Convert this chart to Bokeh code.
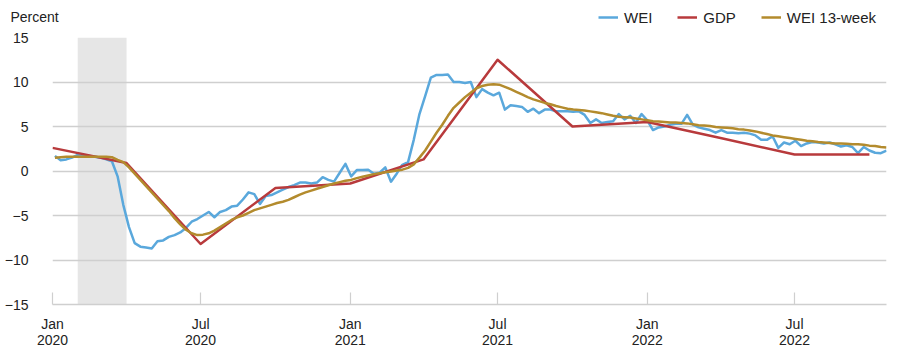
import pandas as pd
from bokeh.plotting import figure
from bokeh.layouts import column
from bokeh.models import (Range1d, FixedTicker, Legend, LegendItem, Label,
                          BoxAnnotation, ColumnDataSource)
from bokeh.embed import file_html
from bokeh.resources import INLINE

# ---------------- data ----------------
wei_start = "2020-01-04"
wei = [1.7, 1.2, 1.3, 1.5, 1.8, 1.7, 1.7, 1.6, 1.5, 1.3,
       1.1, -0.6, -3.8, -6.3, -8.1, -8.5, -8.6, -8.7, -7.9, -7.8,
       -7.4, -7.2, -6.9, -6.4, -5.7, -5.4, -5.0, -4.6, -5.2, -4.6,
       -4.4, -4.0, -3.9, -3.2, -2.4, -2.6, -3.7, -2.8, -2.7, -2.4,
       -2.1, -1.8, -1.6, -1.3, -1.3, -1.4, -1.3, -0.7, -1.0, -1.2,
       -0.2, 0.8, -0.6, 0.1, 0.1, 0.15, -0.3, -0.2, 0.4, -1.2,
       -0.3, 0.7, 1.0, 3.5, 6.4, 8.4, 10.5, 10.8, 10.8, 10.85,
       10.0, 10.0, 9.9, 10.0, 8.3, 9.2, 8.8, 8.5, 8.8, 6.9,
       7.4, 7.3, 7.2, 6.65, 7.0, 6.5, 6.9, 6.9, 6.7, 6.7,
       6.7, 6.65, 6.7, 6.3, 5.4, 5.8, 5.4, 5.5, 5.6, 6.4,
       5.8, 6.2, 5.4, 6.4, 5.7, 4.6, 4.9, 5.0, 5.2, 5.3,
       5.3, 6.3, 5.2, 4.9, 4.75, 4.6, 4.3, 4.6, 4.3, 4.3,
       4.25, 4.3, 4.2, 4.0, 3.5, 3.5, 3.9, 2.6, 3.2, 3.0,
       3.4, 2.8, 3.1, 3.25, 3.2, 3.1, 3.2, 3.0, 2.75, 2.9,
       2.7, 2.0, 2.7, 2.3, 2.05, 2.0, 2.3]
wei13 = [1.5, 1.55, 1.6, 1.6, 1.6, 1.6, 1.6, 1.6, 1.6, 1.6,
         1.55, 1.25, 1.0, 0.4, -0.3, -1.0, -1.7, -2.4, -3.1, -3.8,
         -4.5, -5.3, -6.0, -6.6, -7.0, -7.2, -7.15, -7.0, -6.7, -6.3,
         -5.9, -5.5, -5.2, -5.0, -4.7, -4.4, -4.2, -4.0, -3.8, -3.6,
         -3.45, -3.25, -2.95, -2.65, -2.4, -2.2, -2.0, -1.8, -1.6, -1.4,
         -1.25, -1.1, -1.0, -0.8, -0.65, -0.5, -0.35, -0.25, -0.15, -0.05,
         0.05, 0.15, 0.35, 0.75, 1.5, 2.3, 3.3, 4.3, 5.2, 6.2,
         7.1, 7.7, 8.3, 8.8, 9.3, 9.55, 9.7, 9.75, 9.7, 9.45,
         9.2, 8.9, 8.6, 8.3, 8.05, 7.85, 7.65, 7.5, 7.3, 7.15,
         7.0, 6.9, 6.85, 6.8, 6.7, 6.6, 6.5, 6.35, 6.2, 6.1,
         6.05, 6.0, 5.9, 5.8, 5.7, 5.6, 5.55, 5.5, 5.45, 5.45,
         5.4, 5.35, 5.25, 5.15, 5.1, 5.05, 4.95, 4.9, 4.85, 4.8,
         4.7, 4.65, 4.55, 4.45, 4.3, 4.15, 4.0, 3.9, 3.8, 3.7,
         3.6, 3.5, 3.4, 3.35, 3.25, 3.2, 3.15, 3.1, 3.1, 3.05,
         3.0, 3.0, 2.95, 2.85, 2.8, 2.7, 2.65]
gdp_dates = ["2020-01-01", "2020-04-01", "2020-07-01", "2020-10-01",
             "2021-01-01", "2021-04-01", "2021-07-01", "2021-10-01",
             "2022-01-01", "2022-04-01", "2022-07-01", "2022-10-01"]
gdp = [2.6, 0.9, -8.2, -1.9, -1.4, 1.3, 12.5, 5.0, 5.5, 3.7, 1.85, 1.85]
recession = ["2020-02-01", "2020-04-01"]
x_tick_dates = ["2020-01-01", "2020-07-01", "2021-01-01",
                "2021-07-01", "2022-01-01", "2022-07-01"]
x_tick_labels = ["Jan\n2020", "Jul\n2020", "Jan\n2021",
                 "Jul\n2021", "Jan\n2022", "Jul\n2022"]
y_ticks = [-15, -10, -5, 0, 5, 10, 15]
series_names = ["WEI", "GDP", "WEI 13-week"]
unit_label = "Percent"
x_start, x_end = "2020-01-01", "2022-10-22"

# ---------------- styling ----------------
FONT = "Liberation Sans"
TXT = "#222222"
C_WEI = "#5aa8dc"
C_GDP = "#b83a3c"
C_W13 = "#b38b2d"
GRID = "#cfcfcf"
W = 896
HEAD_H = 28
MAIN_H = 332


def ms(s):
    return int(pd.Timestamp(s).timestamp() * 1000)


wei_dates = pd.date_range(wei_start, periods=len(wei), freq="7D")
src_w = ColumnDataSource(dict(date=wei_dates, wei=wei, wei13=wei13))
src_g = ColumnDataSource(dict(date=pd.to_datetime(gdp_dates), gdp=gdp))

# ---------------- header (unit label + legend) ----------------
# same series, drawn against a pixel range where they fall out of view:
# only their legend entries show here
head = figure(width=W, height=HEAD_H, x_range=Range1d(0, W),
              y_range=Range1d(0, HEAD_H), output_backend="svg",
              toolbar_location=None, x_axis_location=None,
              y_axis_location=None, min_border=0)
head.frame_align = False
head.outline_line_color = None
head.grid.grid_line_color = None
head.add_layout(Label(x=10, y=HEAD_H - 16, x_units="screen", y_units="screen",
                      text=unit_label, text_font=FONT, text_font_size="14px",
                      text_color=TXT, text_baseline="alphabetic"))
h_wei = head.line("date", "wei", source=src_w, line_color=C_WEI, line_width=2.5)
h_gdp = head.line("date", "gdp", source=src_g, line_color=C_GDP, line_width=2.5)
h_w13 = head.line("date", "wei13", source=src_w, line_color=C_W13, line_width=2.5)
legend = Legend(items=[LegendItem(label=series_names[0], renderers=[h_wei]),
                       LegendItem(label=series_names[1], renderers=[h_gdp]),
                       LegendItem(label=series_names[2], renderers=[h_w13])],
                orientation="horizontal", location=(598, 2),
                padding=0, margin=0, spacing=25, label_standoff=6,
                glyph_width=20, glyph_height=18, label_height=18,
                border_line_color=None, background_fill_alpha=0,
                label_text_font=FONT, label_text_font_size="15px",
                label_text_color=TXT)
head.add_layout(legend, "center")

# ---------------- main chart ----------------
p = figure(width=W, height=MAIN_H, x_axis_type="datetime",
           x_range=Range1d(ms(x_start), ms(x_end)), y_range=Range1d(-15, 15),
           output_backend="svg", toolbar_location=None,
           min_border_left=52, min_border_right=10,
           min_border_top=37 - HEAD_H, min_border_bottom=MAIN_H - (304 - HEAD_H))
p.frame_align = False
p.outline_line_color = None
p.background_fill_color = "white"

p.add_layout(BoxAnnotation(left=ms(recession[0]), right=ms(recession[1]),
                           fill_color="#e6e6e6", fill_alpha=1.0,
                           line_color=None, level="image"))

p.line("date", "wei", source=src_w, line_color=C_WEI, line_width=2.5,
       line_join="round")
p.line("date", "gdp", source=src_g, line_color=C_GDP, line_width=2.5,
       line_join="round")
p.line("date", "wei13", source=src_w, line_color=C_W13, line_width=2.5,
       line_join="round")

p.xgrid.grid_line_color = None
p.ygrid.grid_line_color = GRID
p.ygrid.grid_line_width = 1.5
p.ygrid.ticker = FixedTicker(ticks=y_ticks)

p.yaxis.ticker = FixedTicker(ticks=y_ticks)
p.yaxis.axis_line_color = None
p.yaxis.major_tick_line_color = None
p.yaxis.minor_tick_line_color = None
p.yaxis.major_label_standoff = 18
p.yaxis.major_label_text_font = FONT
p.yaxis.major_label_text_font_size = "14px"
p.yaxis.major_label_text_color = TXT

tick_ms = [ms(d) for d in x_tick_dates]
p.xaxis.ticker = FixedTicker(ticks=tick_ms)
p.xaxis.major_label_overrides = {t: l for t, l in zip(tick_ms, x_tick_labels)}
p.xaxis.axis_line_color = GRID
p.xaxis.axis_line_width = 1.5
p.xaxis.major_tick_line_color = GRID
p.xaxis.major_tick_line_width = 1.2
p.xaxis.major_tick_in = 12
p.xaxis.major_tick_out = 0
p.xaxis.minor_tick_line_color = None
p.xaxis.major_label_standoff = 11
p.xaxis.major_label_text_font = FONT
p.xaxis.major_label_text_font_size = "14px"
p.xaxis.major_label_text_color = TXT
p.xaxis.major_label_text_line_height = 1.0

layout = column(head, p, spacing=0)
open("out.html", "w").write(file_html(layout, INLINE))
